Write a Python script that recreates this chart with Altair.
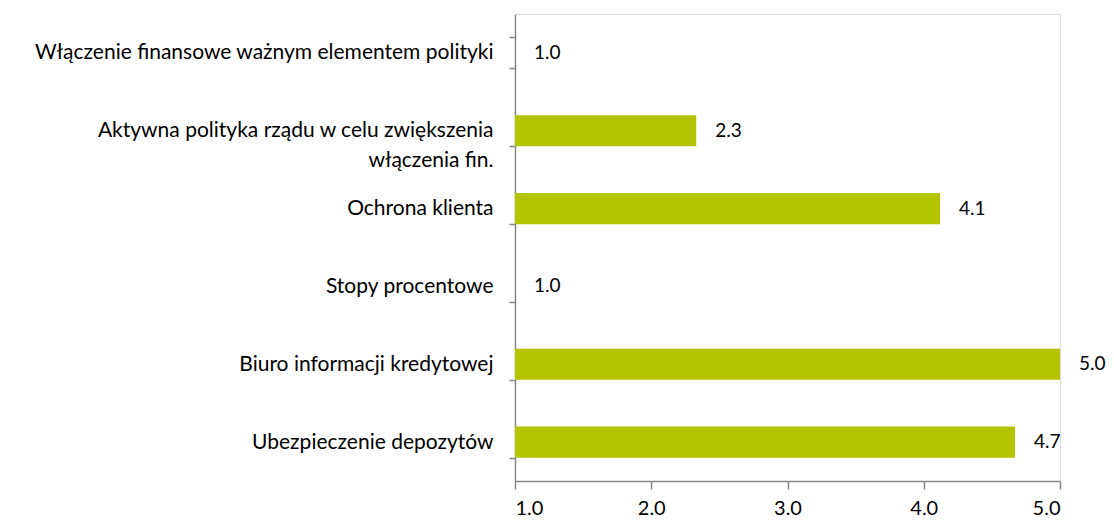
import altair as alt
import pandas as pd

categories = [
    "Włączenie finansowe ważnym elementem polityki",
    "Aktywna polityka rządu w celu zwiększenia|włączenia fin.",
    "Ochrona klienta",
    "Stopy procentowe",
    "Biuro informacji kredytowej",
    "Ubezpieczenie depozytów",
]
values = [1.0, 2.33, 4.12, 1.0, 5.0, 4.67]
x_ticks = [1, 2, 3, 4, 5]

df = pd.DataFrame({"cat": categories, "val": values})

FONT = "Lato"
AXIS_COLOR = "#868686"
BAR_COLOR = "#b4c400"

y_enc = alt.Y(
    "cat:N",
    sort=categories,
    title=None,
    scale=alt.Scale(paddingInner=0.6, paddingOuter=0.3),
    axis=alt.Axis(
        tickBand="extent",
        domainColor=AXIS_COLOR,
        domainWidth=1.5,
        tickColor=AXIS_COLOR,
        tickWidth=1.5,
        tickSize=6,
        labelPadding=16,
        labelFont=FONT,
        labelFontSize=21,
        labelColor="#000000",
        labelLimit=520,
        labelExpr="split(datum.label, '|')",
        labelLineHeight=30,
    ),
)

x_enc = alt.X(
    "val:Q",
    title=None,
    scale=alt.Scale(domain=[1, 5], nice=False, zero=False),
    axis=alt.Axis(
        values=x_ticks,
        format=".1f",
        grid=False,
        domainColor=AXIS_COLOR,
        domainWidth=1.5,
        tickColor=AXIS_COLOR,
        tickWidth=1.5,
        tickSize=8,
        labelPadding=9,
        labelFont=FONT,
        labelFontSize=20,
        labelColor="#000000",
    ),
)

base = alt.Chart(df)

bars = base.mark_bar(color=BAR_COLOR).encode(
    y=y_enc,
    x=x_enc,
    x2=alt.X2(datum=1),
)

labels = base.mark_text(
    align="left", baseline="middle", dx=19, font=FONT, fontSize=19, color="#000000"
).encode(
    y=alt.Y("cat:N", sort=categories),
    x=alt.X("val:Q"),
    text=alt.Text("val:Q", format=".1f"),
)

chart = (
    alt.layer(bars, labels)
    .properties(
        width=545,
        height=467,
        autosize=alt.AutoSizeParams(type="none"),
        padding={"left": 507, "top": 6, "right": 46, "bottom": 36},
    )
    .configure_view(stroke=None)
    .configure(background="#ffffff")
)

chart.save("out.html", embed_options={"renderer": "svg", "actions": False})
